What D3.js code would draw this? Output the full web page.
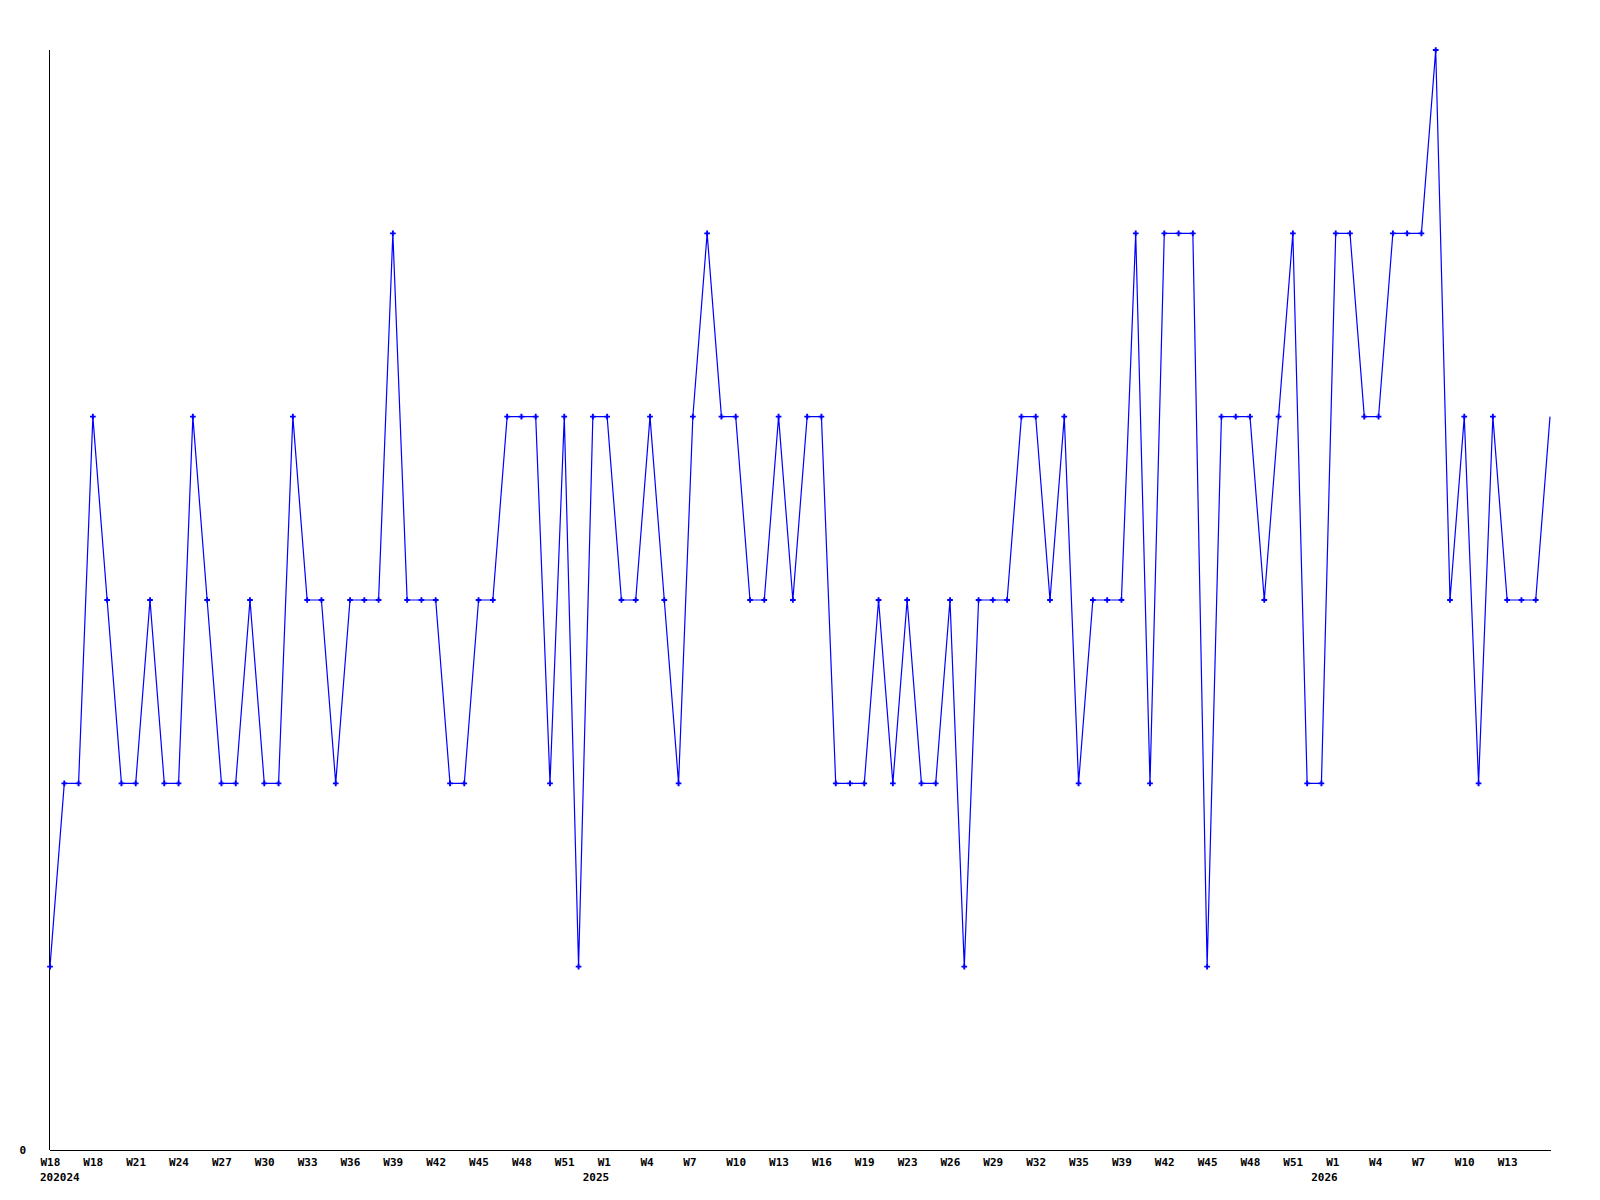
<!DOCTYPE html>
<html>
<head>
<meta charset="utf-8">
<script src="https://cdn.jsdelivr.net/npm/d3@7"></script>
<style>
  body { margin: 0; background: #fff; }
  .lbl { font-family: "DejaVu Sans Mono", monospace; font-weight: bold; font-size: 11px; fill: #000; }
</style>
</head>
<body>
<div id="vis-container"></div>
<script>
// weekly values, one per week
const values = [1, 2, 2, 4, 3, 2, 2, 3, 2, 2, 4, 3, 2, 2, 3, 2, 2, 4, 3, 3,
                2, 3, 3, 3, 5, 3, 3, 3, 2, 2, 3, 3, 4, 4, 4, 2, 4, 1, 4, 4,
                3, 3, 4, 3, 2, 4, 5, 4, 4, 3, 3, 4, 3, 4, 4, 2, 2, 2, 3, 2,
                3, 2, 2, 3, 1, 3, 3, 3, 4, 4, 3, 4, 2, 3, 3, 3, 5, 2, 5, 5,
                5, 1, 4, 4, 4, 3, 4, 5, 2, 2, 5, 5, 4, 4, 5, 5, 5, 6, 3, 4,
                2, 4, 3, 3, 3, 4];

// x axis labels (every third week)
const tickIndex = [0, 3, 6, 9, 12, 15, 18, 21, 24, 27, 30, 33, 36, 39, 42, 45, 48, 51,
                   54, 57, 60, 63, 66, 69, 72, 75, 78, 81, 84, 87, 90, 93, 96, 99, 102];
const tickLabels = ["W18", "W18", "W21", "W24", "W27", "W30", "W33", "W36", "W39", "W42",
                    "W45", "W48", "W51", "W1", "W4", "W7", "W10", "W13", "W16", "W19",
                    "W23", "W26", "W29", "W32", "W35", "W39", "W42", "W45", "W48", "W51",
                    "W1", "W4", "W7", "W10", "W13"];
const yearIndex = [0, 39, 90];
const yearLabels = ["202024", "2025", "2026"];

const w = 1600, h = 1200;
const padLeft = 50, padRight = 1550, padTop = 50, padBottom = 1150;

const svg = d3.select("#vis-container")
    .append("svg")
    .attr("width", w)
    .attr("height", h);

const xScale = d3.scaleLinear()
    .domain([0, values.length - 1])
    .range([padLeft, padRight]);

const yScale = d3.scaleLinear()
    .domain([0, 6])
    .range([padBottom, padTop]);

// x axis, labels start a bit left of the tick
const xAxis = d3.axisBottom(xScale)
    .tickValues(tickIndex)
    .tickFormat((d, i) => tickLabels[i])
    .tickSize(0)
    .tickPadding(8);

const gx = svg.append("g")
    .attr("transform", "translate(0," + padBottom + ")")
    .call(xAxis);
gx.select(".domain").remove();
gx.attr("font-family", null).attr("font-size", null).attr("text-anchor", null);
gx.selectAll("text")
    .attr("class", "lbl")
    .attr("fill", null)
    .attr("x", -10)
    .style("text-anchor", "start");

svg.append("line")
    .attr("x1", padLeft).attr("x2", padRight + 1)
    .attr("y1", padBottom + 0.5).attr("y2", padBottom + 0.5)
    .attr("stroke", "#000");

// year labels under the week labels
svg.selectAll(".year")
    .data(yearIndex)
    .enter()
    .append("text")
    .attr("class", "lbl year")
    .attr("x", (d, i) => i == 0 ? xScale(d) - 10 : xScale(d) + 2)
    .attr("y", padBottom + 31)
    .style("text-anchor", (d, i) => i == 0 ? "start" : "end")
    .text((d, i) => yearLabels[i]);

// y axis
const yAxis = d3.axisLeft(yScale)
    .tickValues([0])
    .tickFormat(d3.format("d"))
    .tickSize(0)
    .tickPadding(24);

const gy = svg.append("g")
    .attr("transform", "translate(" + padLeft + ",0)")
    .call(yAxis);
gy.select(".domain").remove();
gy.attr("font-family", null).attr("font-size", null);
gy.selectAll("text").attr("class", "lbl").attr("fill", null);

svg.append("line")
    .attr("x1", padLeft - 0.5).attr("x2", padLeft - 0.5)
    .attr("y1", padTop).attr("y2", padBottom)
    .attr("stroke", "#000");

// the line
const line = d3.line()
    .x((d, i) => xScale(i))
    .y(d => yScale(d));

svg.append("path")
    .datum(values)
    .attr("d", line)
    .attr("fill", "none")
    .attr("stroke", "#0000ff")
    .attr("stroke-width", 1.2);

// point markers
svg.selectAll(".dot")
    .data(values.slice(0, values.length - 1))
    .enter()
    .append("path")
    .attr("class", "dot")
    .attr("d", d3.symbol().type(d3.symbolCross).size(18))
    .attr("transform", (d, i) => "translate(" + xScale(i) + "," + yScale(d) + ")")
    .attr("fill", "#0000ff");
</script>
</body>
</html>
